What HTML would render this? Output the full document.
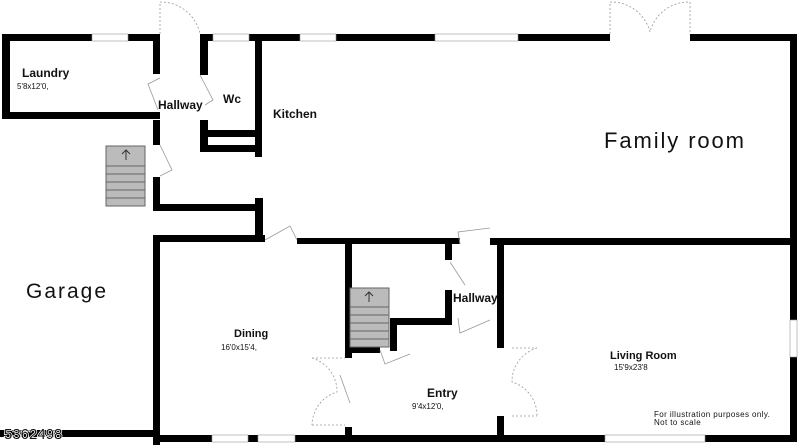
<!DOCTYPE html>
<html><head><style>
html,body{margin:0;padding:0;background:#fff;}
svg{display:block;}
text{font-family:"Liberation Sans",sans-serif;fill:#111;}
</style></head><body>
<svg width="800" height="445" viewBox="0 0 800 445" xmlns="http://www.w3.org/2000/svg">
<g fill="#000">
<rect x="2" y="34" width="90" height="7"/>
<rect x="128" y="34" width="32" height="7"/>
<rect x="2" y="34" width="8" height="85"/>
<rect x="2" y="112" width="158" height="7"/>
<rect x="153" y="34" width="7" height="40"/>
<rect x="153" y="120" width="7" height="25"/>
<rect x="153" y="177" width="7" height="34"/>
<rect x="153" y="204" width="110" height="7"/>
<rect x="255" y="198" width="8" height="42"/>
<rect x="200" y="34" width="13" height="7"/>
<rect x="249" y="34" width="51" height="7"/>
<rect x="336" y="34" width="99" height="7"/>
<rect x="518" y="34" width="92" height="7"/>
<rect x="690" y="34" width="107" height="7"/>
<rect x="200" y="34" width="8" height="41"/>
<rect x="200" y="120" width="8" height="32"/>
<rect x="255" y="38" width="7" height="119"/>
<rect x="200" y="130" width="62" height="7"/>
<rect x="200" y="145" width="62" height="7"/>
<rect x="790" y="34" width="7" height="286"/>
<rect x="790" y="357" width="7" height="85"/>
<rect x="297" y="238" width="163" height="6"/>
<rect x="490" y="238" width="307" height="7"/>
<rect x="153" y="235" width="112" height="7"/>
<rect x="153" y="235" width="7" height="210"/>
<rect x="0" y="430" width="155" height="7"/>
<rect x="153" y="435" width="59" height="7"/>
<rect x="248" y="435" width="10" height="7"/>
<rect x="295" y="435" width="310" height="7"/>
<rect x="705" y="435" width="92" height="7"/>
<rect x="345" y="240" width="7" height="118"/>
<rect x="345" y="427" width="7" height="15"/>
<rect x="350" y="347" width="30" height="6"/>
<rect x="390" y="318" width="7" height="33"/>
<rect x="390" y="318" width="62" height="7"/>
<rect x="445" y="290" width="7" height="35"/>
<rect x="445" y="244" width="7" height="16"/>
<rect x="497" y="240" width="7" height="108"/>
<rect x="497" y="416" width="7" height="26"/>
</g>
<g fill="#fff" stroke="#999" stroke-width="0.6">
<rect x="92" y="34" width="36" height="7"/><rect x="213" y="34" width="36" height="7"/>
<rect x="300" y="34" width="36" height="7"/><rect x="435" y="34" width="83" height="7"/>
<rect x="790" y="320" width="7" height="37"/>
<rect x="212" y="435" width="36" height="7"/><rect x="258" y="435" width="37" height="7"/>
<rect x="605" y="435" width="100" height="7"/>
</g>
<g fill="#bbb" stroke="#666" stroke-width="1">
<rect x="106" y="146" width="39" height="60"/>
<line x1="106" y1="166" x2="145" y2="166"/><line x1="106" y1="174" x2="145" y2="174"/><line x1="106" y1="182" x2="145" y2="182"/><line x1="106" y1="190" x2="145" y2="190"/><line x1="106" y1="198" x2="145" y2="198"/>
<rect x="350" y="288" width="39" height="59"/>
<line x1="350" y1="307" x2="389" y2="307"/><line x1="350" y1="315" x2="389" y2="315"/><line x1="350" y1="323" x2="389" y2="323"/><line x1="350" y1="331" x2="389" y2="331"/><line x1="350" y1="339" x2="389" y2="339"/>
</g>
<g stroke="#333" stroke-width="1" fill="none">
<path d="M126 160V150M122 154L126 150L130 154"/>
<path d="M369 302V292M365 296L369 292L373 296"/>
</g>
<g stroke="#999" stroke-width="0.8" fill="none">
<path d="M160 34V2 A40 40 0 0 1 200 34" stroke-dasharray="2,2"/>
<path d="M160 78L148 84L158 110"/><path d="M200 75L213 100L205 105"/>
<path d="M160 145L172 170L160 176"/>
<path d="M265 240L290 226L297 240"/>
<path d="M610 34V2 A40 40 0 0 1 650 32 A40 40 0 0 1 690 2V34" stroke-dasharray="2,2"/>
<path d="M460 244L458 232L490 228"/>
<path d="M450 262L465 285"/><path d="M458 318L460 333L490 320"/>
<path d="M312 358H345M312 425H345M312 358 A35 35 0 0 1 337 392 A35 35 0 0 0 312 425" stroke-dasharray="2,2"/>
<path d="M340 375L350 403"/><path d="M380 350L385 364L410 354"/>
<path d="M512 348H537M512 416H537M537 348 A35 35 0 0 0 512 382 A35 35 0 0 1 537 416" stroke-dasharray="2,2"/>
</g>
<text x="22" y="77" font-size="12" font-weight="bold">Laundry</text>
<text x="17" y="89" font-size="8">5'8x12'0,</text>
<text x="158" y="109" font-size="12" font-weight="bold">Hallway</text>
<text x="223" y="103" font-size="12" font-weight="bold">Wc</text>
<text x="273" y="118" font-size="12" font-weight="bold">Kitchen</text>
<text x="604" y="148" font-size="22" letter-spacing="1.9">Family room</text>
<text x="26" y="298" font-size="21" letter-spacing="2">Garage</text>
<text x="234" y="337" font-size="11" font-weight="bold">Dining</text>
<text x="221" y="350" font-size="8">16'0x15'4,</text>
<text x="453" y="302" font-size="12" font-weight="bold">Hallway</text>
<text x="427" y="397" font-size="12" font-weight="bold">Entry</text>
<text x="412" y="409" font-size="8">9'4x12'0,</text>
<text x="610" y="359" font-size="11" font-weight="bold">Living Room</text>
<text x="614" y="370" font-size="8">15'9x23'8</text>
<text x="654" y="417" font-size="8" letter-spacing="0.4">For illustration purposes only.</text>
<text x="654" y="425" font-size="8" letter-spacing="0.4">Not to scale</text>
<text x="4" y="439" font-size="15" fill="#222" stroke="#fff" stroke-width="1.5" paint-order="stroke">5362498</text>
</svg>
</body></html>
